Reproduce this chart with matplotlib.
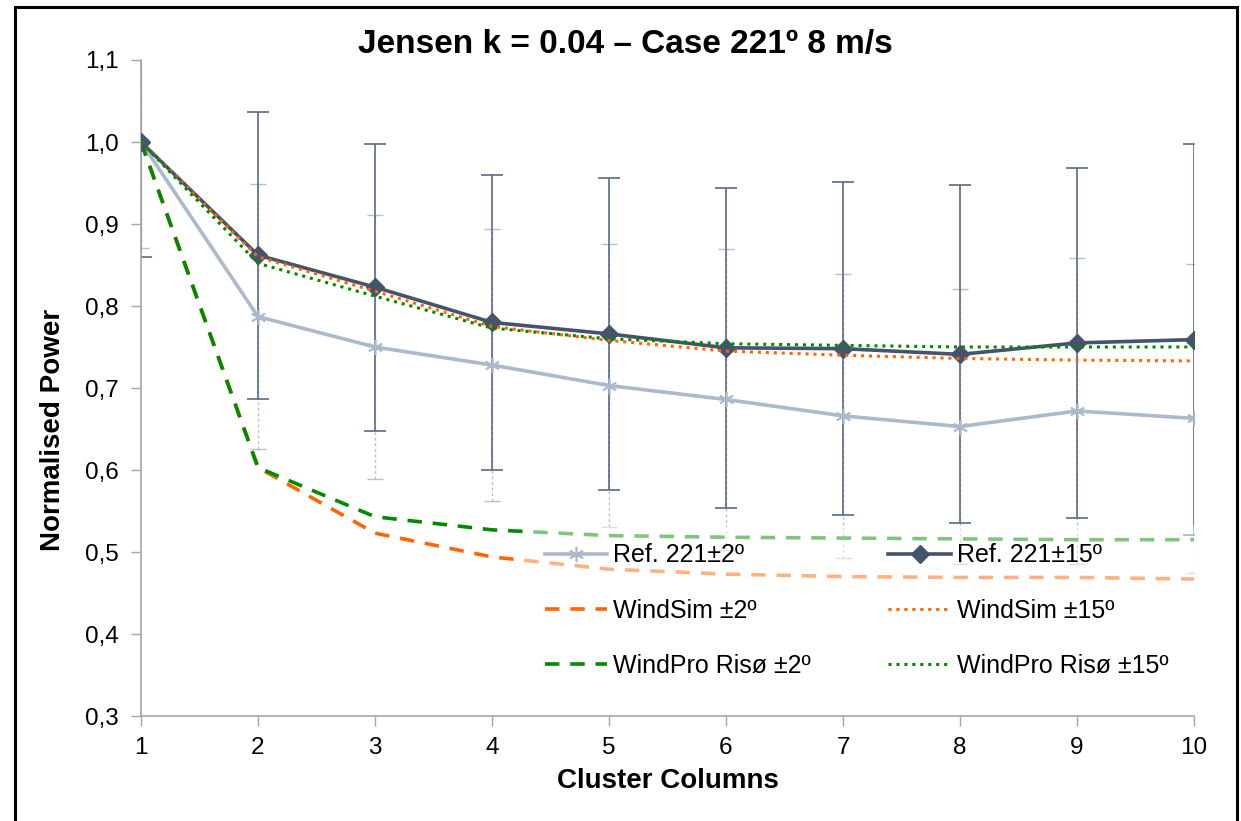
import matplotlib
matplotlib.use("Agg")
import matplotlib.pyplot as plt
from matplotlib.patches import Rectangle
from matplotlib.ticker import FuncFormatter

plt.rcParams['font.family'] = ['Liberation Sans', 'DejaVu Sans']

columns = [1, 2, 3, 4, 5, 6, 7, 8, 9, 10]
ref_2 = [1.0, 0.787, 0.750, 0.728, 0.703, 0.686, 0.666, 0.653, 0.672, 0.663]
ref_2_err = [0.129, 0.162, 0.161, 0.166, 0.173, 0.184, 0.173, 0.168, 0.187, 0.188]
ref_15 = [1.0, 0.862, 0.823, 0.780, 0.766, 0.749, 0.748, 0.741, 0.755, 0.759]
ref_15_err = [0.140, 0.175, 0.175, 0.180, 0.190, 0.195, 0.203, 0.206, 0.213, 0.238]
windsim_2 = [1.0, 0.603, 0.523, 0.494, 0.479, 0.473, 0.470, 0.469, 0.469, 0.467]
windsim_15 = [1.0, 0.860, 0.818, 0.775, 0.758, 0.745, 0.740, 0.736, 0.734, 0.733]
windpro_2 = [1.0, 0.603, 0.543, 0.527, 0.520, 0.518, 0.517, 0.516, 0.515, 0.515]
windpro_15 = [1.0, 0.852, 0.812, 0.773, 0.760, 0.754, 0.752, 0.750, 0.750, 0.750]

labels = {
    'ref2': 'Ref. 221±2º', 'ref15': 'Ref. 221±15º',
    'ws2': 'WindSim ±2º', 'ws15': 'WindSim ±15º',
    'wp2': 'WindPro Risø ±2º', 'wp15': 'WindPro Risø ±15º',
}

DARK = '#44546a'
LIGHT = '#acb9ca'
ORANGE = '#ff6600'
GREEN = '#008a00'

fig = plt.figure(figsize=(12.41, 8.21), dpi=100)
ax = fig.add_axes([141/1241, 1-716/821, (1194-141)/1241, (716-60)/821])

# error bars
eb1 = ax.errorbar(columns, ref_2, yerr=ref_2_err, fmt='none', ecolor='#b4bfce',
                  elinewidth=1.0, capsize=6, capthick=1.0, zorder=1)
eb1[2][0].set_linestyle((0, (2, 2)))
ax.errorbar(columns, ref_15, yerr=ref_15_err, fmt='none', ecolor='#5b6a82',
            elinewidth=1.2, capsize=8, capthick=1.2, zorder=2)

h_ref2, = ax.plot(columns, ref_2, color=LIGHT, lw=2.6, marker=(6, 2, 0), ms=11,
                  mec=LIGHT, mew=1.2, zorder=3, label=labels['ref2'])
h_ref15, = ax.plot(columns, ref_15, color=DARK, lw=2.6, marker='D', ms=9,
                   mec=DARK, mfc=DARK, zorder=4, label=labels['ref15'])
h_ws2, = ax.plot(columns, windsim_2, color=ORANGE, lw=2.6, ls=(0, (4, 3)),
                 zorder=3, label=labels['ws2'])
h_wp2, = ax.plot(columns, windpro_2, color=GREEN, lw=2.6, ls=(0, (4, 3)),
                 zorder=3, label=labels['wp2'])
h_ws15, = ax.plot(columns, windsim_15, color=ORANGE, lw=2.2, ls=(0, (1, 1.6)),
                  zorder=5, label=labels['ws15'])
h_wp15, = ax.plot(columns, windpro_15, color=GREEN, lw=2.2, ls=(0, (1, 1.6)),
                  zorder=5, label=labels['wp15'])

ax.set_xlim(1, 10)
ax.set_ylim(0.3, 1.1)
ax.set_xticks(columns)
ax.set_yticks([0.3, 0.4, 0.5, 0.6, 0.7, 0.8, 0.9, 1.0, 1.1])
ax.yaxis.set_major_formatter(FuncFormatter(lambda v, p: f"{v:.1f}".replace('.', ',')))
for s in ['top', 'right']:
    ax.spines[s].set_visible(False)
for s in ['left', 'bottom']:
    ax.spines[s].set_color('#a6a6a6')
    ax.spines[s].set_linewidth(1.2)
ax.tick_params(axis='both', colors='#a6a6a6', length=7, width=1.0, labelcolor='black',
               labelsize=17.5)
ax.tick_params(axis='y', pad=9)
ax.tick_params(axis='x', pad=8)

ax.set_xlabel('Cluster Columns', fontsize=20, fontweight='bold')
ax.xaxis.set_label_coords(0.5, -(768-716)/656, transform=ax.transAxes)
ax.set_ylabel('Normalised Power', fontsize=20, fontweight='bold')
ax.yaxis.set_label_coords(-(141-66)/1053, (716-430)/656, transform=ax.transAxes)

fig.text(625/1241, 1-45/821, 'Jensen k = 0.04 – Case 221º 8 m/s', ha='center',
         va='center', fontsize=24, fontweight='bold')

# semi-transparent legend background
ax.add_patch(Rectangle((523/1241, 1-692/821), (1205-523)/1241, (692-526)/821,
                       transform=fig.transFigure, facecolor='white', alpha=0.5,
                       edgecolor='none', zorder=9, clip_on=False))

leg = ax.legend(handles=[h_ref2, h_ws2, h_wp2, h_ref15, h_ws15, h_wp15], ncol=2,
                loc='upper left', bbox_to_anchor=(532/1241, 1-531/821),
                bbox_transform=fig.transFigure, frameon=False, fontsize=18,
                handlelength=2.5, handletextpad=0.25, columnspacing=3.1,
                labelspacing=1.25, borderaxespad=0, borderpad=0.5)
leg.set_zorder(10)

fig.patches.append(Rectangle((15/1241, -0.02), (1237-15)/1241, 1-7/821+0.02,
                             transform=fig.transFigure, fill=False, lw=2.2,
                             edgecolor='black'))

fig.savefig('out.png', dpi=100)
